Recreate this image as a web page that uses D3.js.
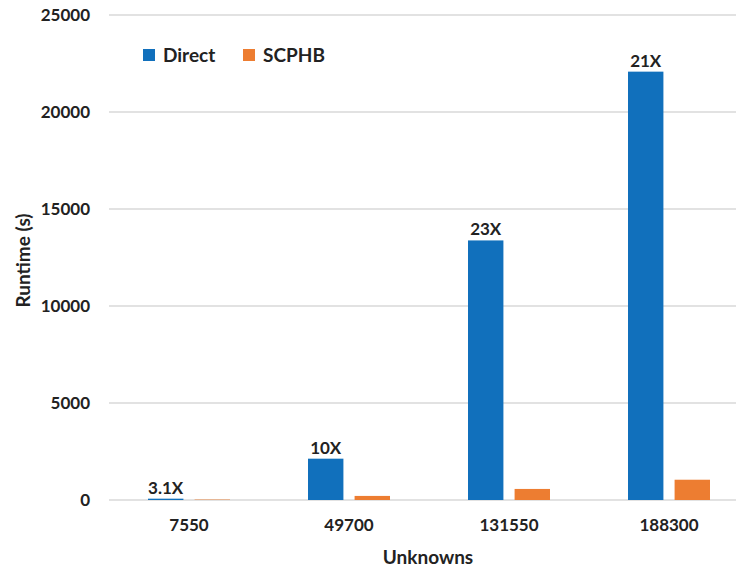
<!DOCTYPE html>
<html>
<head>
<meta charset="utf-8">
<script src="https://cdn.jsdelivr.net/npm/d3@7"></script>
<style>
  html, body { margin: 0; padding: 0; background: #fff; }
  svg { display: block; font-family: Lato, "Open Sans", sans-serif; font-weight: bold; }
</style>
</head>
<body>
<svg id="chart" width="736" height="571"></svg>
<script>
// Runtime per problem size for the direct solver and SCPHB
const categories = ["7550", "49700", "131550", "188300"];
const seriesNames = ["Direct", "SCPHB"];
const directRuntime = [68, 2130, 13380, 22080];
const scphbRuntime = [22, 210, 570, 1045];
const speedupLabels = ["3.1X", "10X", "23X", "21X"];
const yTicks = [0, 5000, 10000, 15000, 20000, 25000];
const colors = ["#1170BC", "#ED7D31"];

const svg = d3.select("#chart");
const margin = { left: 109, top: 15, bottom: 71 };
const plotW = 640;
const H = 571;

const x = d3.scaleBand().domain(categories).range([margin.left, margin.left + plotW]).paddingInner(0).paddingOuter(0);
const xs = d3.scaleBand().domain(seriesNames).range([39, 121]).paddingInner(0.24);
const y = d3.scaleLinear().domain([0, 25000]).range([H - margin.bottom, margin.top]);

// gridlines
svg.append("g").selectAll("line").data(yTicks).join("line")
  .attr("x1", margin.left).attr("x2", margin.left + plotW)
  .attr("y1", d => y(d)).attr("y2", d => y(d))
  .attr("stroke", "#d9d9d9").attr("stroke-width", 1.3);

// y axis labels
const yAxis = d3.axisLeft(y).tickValues(yTicks).tickSize(0).tickPadding(19).tickFormat(d3.format("d"));
const gy = svg.append("g").attr("transform", `translate(${margin.left},0)`).call(yAxis);
gy.select(".domain").remove();
gy.selectAll("text").attr("font-size", 17).attr("fill", "#222").attr("font-family", "Lato, sans-serif").attr("font-weight", "bold");

// x axis labels
const xAxis = d3.axisBottom(x).tickSize(0).tickPadding(19);
const gx = svg.append("g").attr("transform", `translate(0,${y(0)})`).call(xAxis);
gx.select(".domain").remove();
gx.selectAll("text").attr("font-size", 17).attr("fill", "#222").attr("font-family", "Lato, sans-serif").attr("font-weight", "bold");

const rows = categories.map((c, i) => ({ c, vals: [directRuntime[i], scphbRuntime[i]], label: speedupLabels[i] }));

const groups = svg.append("g").selectAll("g").data(rows).join("g")
  .attr("transform", d => `translate(${x(d.c)},0)`);

groups.selectAll("rect").data(d => d.vals.map((v, j) => ({ v, s: seriesNames[j], j }))).join("rect")
  .attr("x", d => xs(d.s)).attr("width", xs.bandwidth())
  .attr("y", d => y(d.v)).attr("height", d => y(0) - y(d.v))
  .attr("fill", d => colors[d.j]);

groups.append("text")
  .attr("x", xs("Direct") + xs.bandwidth() / 2)
  .attr("y", d => y(d.vals[0]) - 5)
  .attr("text-anchor", "middle")
  .attr("font-size", 17).attr("fill", "#222")
  .text(d => d.label);

// axis titles
svg.append("text").attr("transform", `translate(30,${(y(0) + y(25000)) / 2 + 3}) rotate(-90)`)
  .attr("text-anchor", "middle").attr("font-size", 19).attr("fill", "#222").text("Runtime (s)");
svg.append("text").attr("x", 428).attr("y", 564)
  .attr("text-anchor", "middle").attr("font-size", 19).attr("fill", "#222").text("Unknowns");

// legend
const legend = svg.append("g").selectAll("g").data(seriesNames).join("g")
  .attr("transform", (d, i) => `translate(${i === 0 ? 143 : 243},49)`);
legend.append("rect").attr("width", 12).attr("height", 12).attr("fill", (d, i) => colors[i]);
legend.append("text").attr("x", 20).attr("y", 12.5).attr("font-size", 19).attr("fill", "#222").text(d => d);
</script>
</body>
</html>
